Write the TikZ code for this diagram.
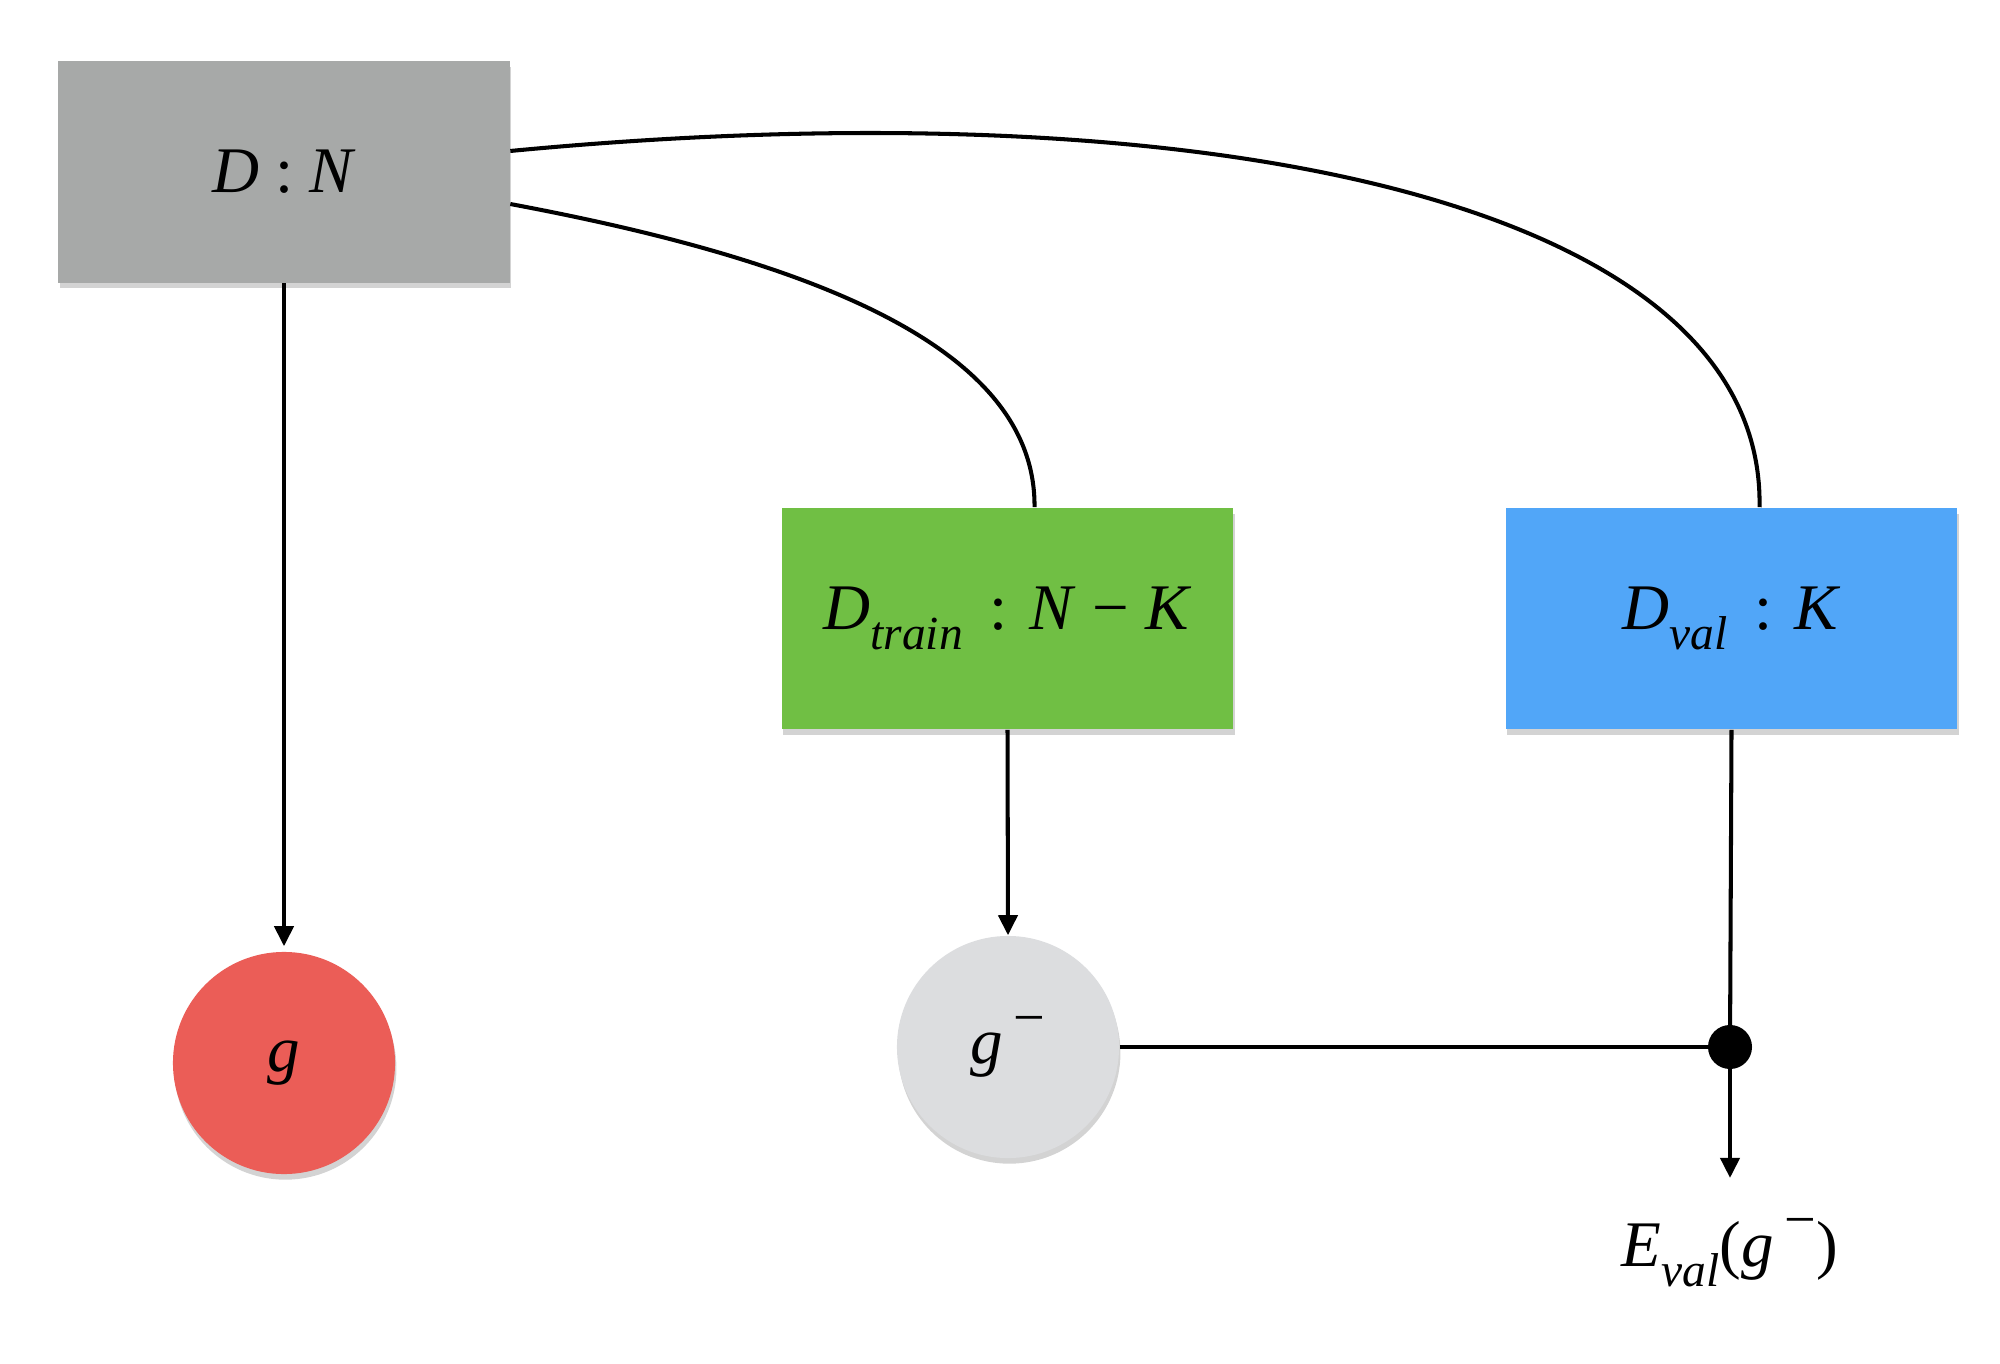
\documentclass[tikz,border=0pt]{standalone}
\usepackage{fontspec}
\setmainfont{Liberation Serif}
\usetikzlibrary{arrows.meta,shadows}
\definecolor{boxgray}{HTML}{A7A9A8}
\definecolor{boxgreen}{HTML}{70BF44}
\definecolor{boxblue}{HTML}{51A6F8}
\definecolor{circred}{HTML}{EB5D57}
\definecolor{circgray}{HTML}{DCDDDF}
\newcommand{\subtxt}[1]{\raisebox{-0.32em}{\fontsize{13.5}{14}\selectfont\textit{#1}}}
\newcommand{\suptxt}[1]{\raisebox{0.42em}{\fontsize{16}{17}\selectfont #1}}
\begin{document}
\begin{tikzpicture}[x=0.01cm,y=-0.01cm,
  every node/.style={font=\fontsize{18.5}{22}\selectfont},
  databox/.style={rectangle,minimum width=4.51cm,minimum height=2.21cm,inner sep=0pt,
    drop shadow={shadow xshift=0.4pt,shadow yshift=-1.6pt,opacity=0.35}},
  datacirc/.style={circle,minimum size=2.22cm,inner sep=0pt,
    drop shadow={shadow xshift=0.4pt,shadow yshift=-1.6pt,opacity=0.35}},
  conn/.style={line width=1.15pt},
  arr/.style={conn,-{Triangle[width=0.19cm,length=0.2cm]}}]
\useasboundingbox (0,0) rectangle (2000,1364);
\node[databox,fill=boxgray] (DN) at (284,172) {\textit{D} : \textit{N}};
\node[databox,fill=boxgreen] (Dtrain) at (1007.5,618.5) {\textit{D}\subtxt{train}\, : \textit{N} − \textit{K}};
\node[databox,fill=boxblue] (Dval) at (1731.5,618.5) {\textit{D}\subtxt{val}\, : \textit{K}};
\node[datacirc,fill=circred] (g) at (284,1063) {\textit{g}};
\node[datacirc,fill=circgray] (gm) at (1008,1047) {\textit{g}\,\suptxt{−}};
\node[circle,fill=black,minimum size=0.44cm,inner sep=0pt] (dot) at (1730,1047) {};
\node[inner sep=0pt] (Eval) at (1730,1253) {\textit{E}\subtxt{val}(\textit{g}\,\suptxt{−})};
\draw[conn] ([yshift=0.21cm]DN.east) .. controls (1200,85) and (1765,200) .. ([xshift=0.28cm]Dval.north);
\draw[conn] ([yshift=-0.32cm]DN.east) .. controls (820,262) and (1036,350) .. ([xshift=0.27cm]Dtrain.north);
\draw[arr,shorten >=0.05cm] (DN.south) -- (g.north);
\draw[arr] (Dtrain.south) -- (gm.north);
\draw[conn] (Dval.south) -- (dot.center);
\draw[conn] (gm.east) -- (dot.center);
\draw[arr,shorten >=0.4cm] (dot.center) -- (Eval.north);
\end{tikzpicture}
\end{document}
